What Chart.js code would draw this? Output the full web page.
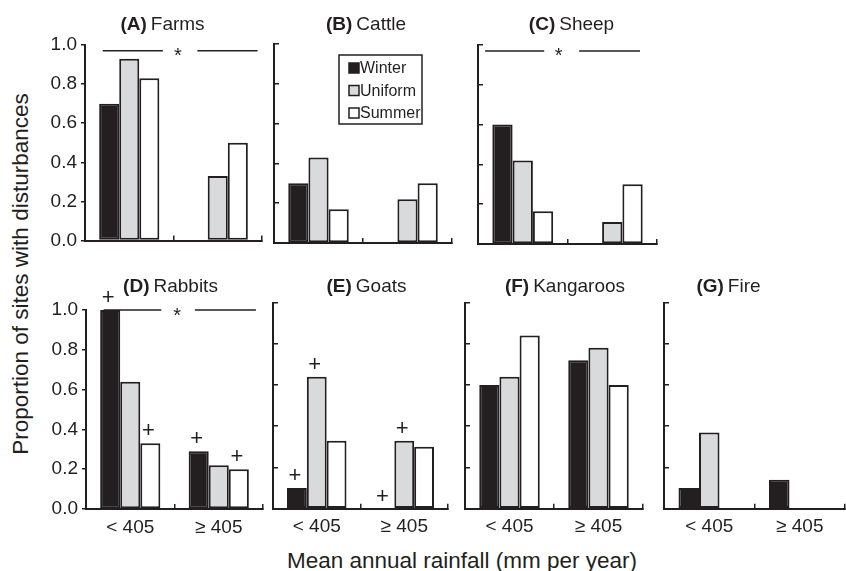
<!DOCTYPE html>
<html>
<head>
<meta charset="utf-8">
<script src="https://cdn.jsdelivr.net/npm/chart.js@4.4.1/dist/chart.umd.min.js"></script>
<style>
  html, body { margin: 0; padding: 0; background: #fff; }
  #fig { position: relative; width: 846px; height: 571px; overflow: hidden;
         font-family: "Liberation Sans", Arial, Helvetica, sans-serif; color: #231f20; }
  #fig canvas { position: absolute; }
  .axis-title { position: absolute; font-size: 22.5px; line-height: 22px; white-space: nowrap; }
  #ytitle { left: 21px; top: 274px; transform: translate(-50%, -50%) rotate(-90deg); }
  #xtitle { left: 462px; top: 550px; transform: translateX(-50%); }
</style>
</head>
<body>
<div id="fig">
  <div class="axis-title" id="ytitle">Proportion of sites with disturbances</div>
  <div class="axis-title" id="xtitle">Mean annual rainfall (mm per year)</div>
</div>
<script>
'use strict';

// ---------------------------------------------------------------------------
// data
// ---------------------------------------------------------------------------

const RAINFALL = ['< 405', '≥ 405'];
const SEASONS  = ['Winter', 'Uniform', 'Summer'];
const Y_TICKS  = [0, 0.2, 0.4, 0.6, 0.8, 1.0];

// proportion of sites, one row per season (Winter, Uniform, Summer): [< 405, ≥ 405]
const FARMS     = [[0.70, 0.00], [0.93, 0.33], [0.83, 0.50]];
const CATTLE    = [[0.30, 0.00], [0.43, 0.22], [0.17, 0.30]];
const SHEEP     = [[0.60, 0.00], [0.42, 0.11], [0.165, 0.30]];
const RABBITS   = [[1.00, 0.29], [0.64, 0.22], [0.33, 0.20]];
const GOATS     = [[0.10, 0.00], [0.64, 0.33], [0.33, 0.30]];
const KANGAROOS = [[0.60, 0.72], [0.64, 0.78], [0.84, 0.60]];
const FIRE      = [[0.10, 0.14], [0.37, 0.00], [0.00, 0.00]];

// "+" marks: [rainfall index, season index]
const RABBITS_PLUS = [[0, 0], [0, 2], [1, 0], [1, 2]];
const GOATS_PLUS   = [[0, 0], [0, 1], [1, 0], [1, 1]];

// significance bars (x in category units, level on the y scale)
const FARMS_SIG   = { level: 0.97, segments: [[-0.30, 0.38], [0.77, 1.45]], star: 0.55 };
const SHEEP_SIG   = { level: 0.97, segments: [[-0.42, 0.24], [0.63, 1.31]], star: 0.40 };
const RABBITS_SIG = { level: 1.00, segments: [[-0.30, 0.35], [0.73, 1.42]], star: 0.53 };

// ---------------------------------------------------------------------------
// style / layout
// ---------------------------------------------------------------------------

const INK = '#231f20';
const SEASON_FILLS = [INK, '#d9dadb', '#ffffff'];
const FONT = "'Liberation Sans', Arial, Helvetica, sans-serif";

const ROWS = [
    { top: 0,   bottom: 256, titleY: 25,  xLabels: false },
    { top: 262, bottom: 549, titleY: 287, xLabels: true  },
];

// area = chart area in page pixels [left, top, right, bottom]
const PANELS = [
    { letter: 'A', name: 'Farms',     values: FARMS,     row: 0, area: [85, 45, 262, 244],    yLabels: true,  titleDx: -11, sig: FARMS_SIG },
    { letter: 'B', name: 'Cattle',    values: CATTLE,    row: 0, area: [274, 44, 452, 243],   yLabels: false, titleDx: 3, legend: true },
    { letter: 'C', name: 'Sheep',     values: SHEEP,     row: 0, area: [478, 45, 657, 244],   yLabels: false, titleDx: 4, sig: SHEEP_SIG },
    { letter: 'D', name: 'Rabbits',   values: RABBITS,   row: 1, area: [86, 310, 263, 509],   yLabels: true,  titleDx: -4, sig: RABBITS_SIG, plus: RABBITS_PLUS },
    { letter: 'E', name: 'Goats',     values: GOATS,     row: 1, area: [273, 302.5, 448, 508.7], yLabels: false, titleDx: 6, plus: GOATS_PLUS },
    { letter: 'F', name: 'Kangaroos', values: KANGAROOS, row: 1, area: [465, 302.5, 643, 508.7], yLabels: false, titleDx: 11 },
    { letter: 'G', name: 'Fire',      values: FIRE,      row: 1, area: [664, 302.5, 845, 508.7], yLabels: false, titleDx: -26 },
];

Chart.defaults.font.family = FONT;
Chart.defaults.color = INK;

// ---------------------------------------------------------------------------
// decorations: titles, legend, significance bars, "+" marks
// ---------------------------------------------------------------------------

const panelDecor = {
    id: 'panelDecor',
    beforeDatasetsDraw(chart, args, opts) {
        const sig = opts.panel.sig;
        if (!sig) return;
        const { ctx, scales: { x, y } } = chart;
        const yy = y.getPixelForValue(sig.level);
        ctx.save();
        ctx.strokeStyle = INK;
        ctx.lineWidth = 1.5;
        sig.segments.forEach(([a, b]) => {
            ctx.beginPath();
            ctx.moveTo(x.getPixelForValue(a), yy);
            ctx.lineTo(x.getPixelForValue(b), yy);
            ctx.stroke();
        });
        ctx.restore();
    },
    afterDatasetsDraw(chart, args, opts) {
        const p = opts.panel;
        const { ctx, chartArea, scales: { x, y } } = chart;
        ctx.save();
        ctx.fillStyle = INK;

        // significance star
        if (p.sig) {
            ctx.font = `20px ${FONT}`;
            ctx.textAlign = 'center';
            ctx.textBaseline = 'middle';
            ctx.fillText('*', x.getPixelForValue(p.sig.star), y.getPixelForValue(p.sig.level) + 6);
        }

        // "+" above selected bars
        (p.plus || []).forEach(([gi, si]) => {
            const bar = chart.getDatasetMeta(si).data[gi];
            ctx.font = `22px ${FONT}`;
            ctx.textAlign = 'center';
            ctx.textBaseline = 'middle';
            ctx.fillText('+', bar.x - 2, bar.y - 12);
        });

        // panel title: bold letter + plain name
        const bold = `bold 19px ${FONT}`;
        const plain = `19px ${FONT}`;
        const lead = `(${p.letter})`;
        ctx.font = bold;
        const w1 = ctx.measureText(lead).width;
        ctx.font = plain;
        const w2 = ctx.measureText(p.name).width;
        const gap = 4;
        const cx = (chartArea.left + chartArea.right) / 2 + p.titleDx;
        const ty = ROWS[p.row].titleY - opts.top;
        const x0 = cx - (w1 + gap + w2) / 2;
        ctx.textAlign = 'left';
        ctx.textBaseline = 'middle';
        ctx.font = bold;
        ctx.fillText(lead, x0, ty);
        ctx.font = plain;
        ctx.fillText(p.name, x0 + w1 + gap, ty);

        // legend box
        if (p.legend) {
            const bx = chartArea.left + 65, by = chartArea.top + 11, bw = 83, bh = 69;
            ctx.fillStyle = '#fff';
            ctx.fillRect(bx, by, bw, bh);
            ctx.strokeStyle = INK;
            ctx.lineWidth = 1.5;
            ctx.strokeRect(bx, by, bw, bh);
            ctx.font = `16px ${FONT}`;
            ctx.textBaseline = 'middle';
            chart.data.datasets.forEach((ds, i) => {
                const ry = by + 13 + i * 22.5;
                ctx.fillStyle = ds.backgroundColor;
                ctx.fillRect(bx + 10, ry - 5, 10, 10);
                ctx.strokeStyle = INK;
                ctx.lineWidth = 1.5;
                ctx.strokeRect(bx + 10, ry - 5, 10, 10);
                ctx.fillStyle = INK;
                ctx.fillText(ds.label, bx + 21, ry + 1);
            });
        }
        ctx.restore();
    },
};

// ---------------------------------------------------------------------------
// one chart per panel
// ---------------------------------------------------------------------------

function makePanel(p) {
    const row = ROWS[p.row];
    const [left, top, right, bottom] = p.area;
    const axisW = p.yLabels ? 60 : 6;
    const cx = left - axisW;
    const cy = row.top;
    const cw = Math.min(right + 3, 846) - cx;
    const ch = row.bottom - cy;

    const canvas = document.createElement('canvas');
    canvas.width = cw;
    canvas.height = ch;
    canvas.style.left = cx + 'px';
    canvas.style.top = cy + 'px';
    canvas.style.width = cw + 'px';
    canvas.style.height = ch + 'px';
    document.getElementById('fig').appendChild(canvas);

    const datasets = SEASONS.map((season, si) => ({
        label: season,
        data: p.values[si],
        backgroundColor: SEASON_FILLS[si],
        borderColor: INK,
        borderWidth: 2,
        borderSkipped: false,
        categoryPercentage: 0.68,
        barPercentage: 1.0,
    }));

    return new Chart(canvas, {
        type: 'bar',
        data: { labels: RAINFALL, datasets },
        plugins: [panelDecor],
        options: {
            responsive: false,
            animation: false,
            devicePixelRatio: 1,
            events: [],
            layout: { padding: { left: 0, top: top - cy, right: cx + cw - right, bottom: 0 } },
            plugins: {
                legend: { display: false },
                tooltip: { enabled: false },
                panelDecor: { panel: p, top: cy },
            },
            scales: {
                x: {
                    type: 'category',
                    offset: true,
                    grid: { offset: true, drawOnChartArea: false, drawTicks: true, tickLength: -5, color: INK, lineWidth: 1.5 },
                    border: { display: true, color: INK, width: 2 },
                    ticks: { display: row.xLabels, padding: 12, font: { size: 19 }, color: INK, maxRotation: 0, autoSkip: false },
                    afterFit: (axis) => { axis.height = row.bottom - bottom; },
                },
                y: {
                    min: 0,
                    max: 1,
                    afterBuildTicks: (axis) => { axis.ticks = Y_TICKS.map(v => ({ value: v })); },
                    grid: { drawOnChartArea: false, drawTicks: true, tickLength: p.yLabels ? 4 : -5, color: INK, lineWidth: 1.5 },
                    border: { display: true, color: INK, width: 2 },
                    ticks: { display: p.yLabels, padding: 4, font: { size: 19 }, color: INK, callback: (v) => Number(v).toFixed(1) },
                    afterFit: (axis) => { axis.width = axisW; },
                },
            },
        },
    });
}

PANELS.forEach(makePanel);
</script>
</body>
</html>
